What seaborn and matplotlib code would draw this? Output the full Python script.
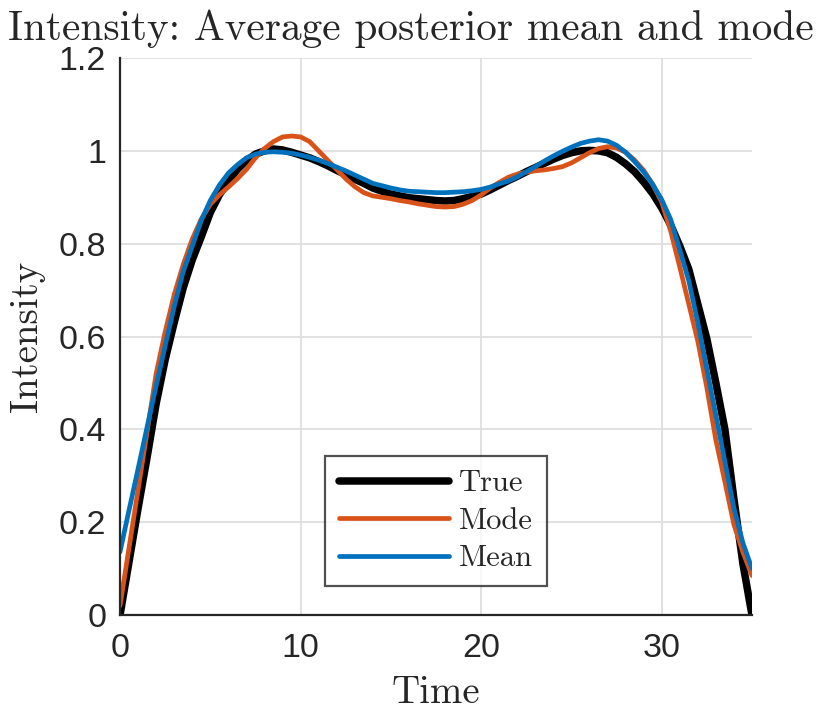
import numpy as np
import pandas as pd
import matplotlib
matplotlib.use("Agg")
import matplotlib.pyplot as plt
import seaborn as sns

# values, every half time unit
time = [i * 0.5 for i in range(71)]
true_vals = [0.0, 0.115, 0.23, 0.34, 0.455, 0.55, 0.63, 0.705, 0.765, 0.815,
             0.867, 0.905, 0.935, 0.96, 0.979, 0.993, 1.0, 1.004, 1.002, 0.997,
             0.991, 0.985, 0.977, 0.968, 0.958, 0.949, 0.939, 0.93, 0.92, 0.913,
             0.907, 0.903, 0.899, 0.897, 0.895, 0.893, 0.892, 0.893, 0.897, 0.902,
             0.907, 0.916, 0.926, 0.936, 0.945, 0.955, 0.964, 0.973, 0.982, 0.99,
             0.996, 1.0, 1.001, 1.0, 0.996, 0.986, 0.972, 0.955, 0.933, 0.908,
             0.877, 0.84, 0.795, 0.745, 0.67, 0.595, 0.5, 0.4, 0.25, 0.11,
             0.0]
mode_vals = [0.02, 0.145, 0.27, 0.395, 0.52, 0.61, 0.69, 0.755, 0.81, 0.853,
             0.885, 0.905, 0.922, 0.94, 0.96, 0.985, 1.005, 1.02, 1.03, 1.032,
             1.03, 1.02, 1.0, 0.98, 0.96, 0.94, 0.923, 0.91, 0.903, 0.9,
             0.897, 0.893, 0.89, 0.886, 0.883, 0.88, 0.879, 0.88, 0.885, 0.893,
             0.905, 0.92, 0.932, 0.943, 0.95, 0.954, 0.957, 0.959, 0.962, 0.966,
             0.974, 0.985, 0.996, 1.005, 1.009, 1.006, 0.997, 0.98, 0.958, 0.928,
             0.89, 0.827, 0.75, 0.67, 0.59, 0.49, 0.377, 0.287, 0.195, 0.135,
             0.085]
mean_vals = [0.136, 0.226, 0.315, 0.405, 0.494, 0.58, 0.665, 0.74, 0.795, 0.85,
             0.893, 0.926, 0.952, 0.97, 0.985, 0.993, 0.997, 0.998, 0.997, 0.995,
             0.991, 0.986, 0.98, 0.973, 0.965, 0.957, 0.948, 0.939, 0.93, 0.925,
             0.92, 0.916, 0.913, 0.912, 0.911, 0.91, 0.91, 0.911, 0.912, 0.914,
             0.917, 0.922, 0.929, 0.935, 0.944, 0.955, 0.966, 0.978, 0.989, 0.999,
             1.008, 1.016, 1.021, 1.024, 1.021, 1.012, 0.997, 0.977, 0.955, 0.928,
             0.895, 0.852, 0.787, 0.72, 0.63, 0.53, 0.43, 0.33, 0.23, 0.155,
             0.10]

x_ticks = [0, 10, 20, 30]
y_ticks = [0, 0.2, 0.4, 0.6, 0.8, 1, 1.2]
y_tick_labels = ["0", "0.2", "0.4", "0.6", "0.8", "1", "1.2"]

sns.set_style("white")
plt.rcParams["font.family"] = ["Liberation Sans", "DejaVu Sans"]
serif = ["cmr10", "DejaVu Serif"]

df = pd.DataFrame({"Time": time, "True": true_vals, "Mode": mode_vals, "Mean": mean_vals})

fig = plt.figure(figsize=(8.3, 7.2), dpi=100)
ax = fig.add_axes([0.1446, 0.1458, 0.7614, 0.7736])

sns.lineplot(data=df, x="Time", y="True", ax=ax, color="black", lw=5.4, label="True")
sns.lineplot(data=df, x="Time", y="Mode", ax=ax, color="#D95319", lw=3.4, label="Mode")
sns.lineplot(data=df, x="Time", y="Mean", ax=ax, color="#0072BD", lw=3.4, label="Mean")
for line in ax.get_lines():
    line.set_solid_joinstyle("round")

ax.set_xlim(0, 35)
ax.set_ylim(0, 1.2)
ax.set_xticks(x_ticks)
ax.set_xticklabels([str(t) for t in x_ticks])
ax.set_yticks(y_ticks)
ax.set_yticklabels(y_tick_labels)
ax.grid(True, color="#dedede", lw=1.3)
ax.set_axisbelow(True)

for side in ["top", "right"]:
    ax.spines[side].set_visible(False)
for side in ["left", "bottom"]:
    ax.spines[side].set_color("#262626")
    ax.spines[side].set_linewidth(1.6)
ax.tick_params(direction="in", length=6, width=1.6, color="#262626",
               labelsize=24.5, labelcolor="#262626")
ax.tick_params(axis="x", pad=13)
ax.tick_params(axis="y", pad=10)

ax.set_title("Intensity: Average posterior mean and mode", family=serif,
             fontsize=29.7, pad=13, x=0.4604)
ax.set_xlabel("Time", family=serif, fontsize=28, labelpad=8)
ax.set_ylabel("Intensity", family=serif, fontsize=28, labelpad=10)

leg = ax.legend(loc="lower center", bbox_to_anchor=(0.5, 0.052), frameon=True,
                fancybox=False, edgecolor="#262626", handlelength=3.6,
                prop={"family": serif, "size": 22}, borderpad=0.45,
                labelspacing=0.33, handletextpad=0.35, borderaxespad=0)
leg.get_frame().set_linewidth(1.6)

fig.savefig("out.png", dpi=100)
